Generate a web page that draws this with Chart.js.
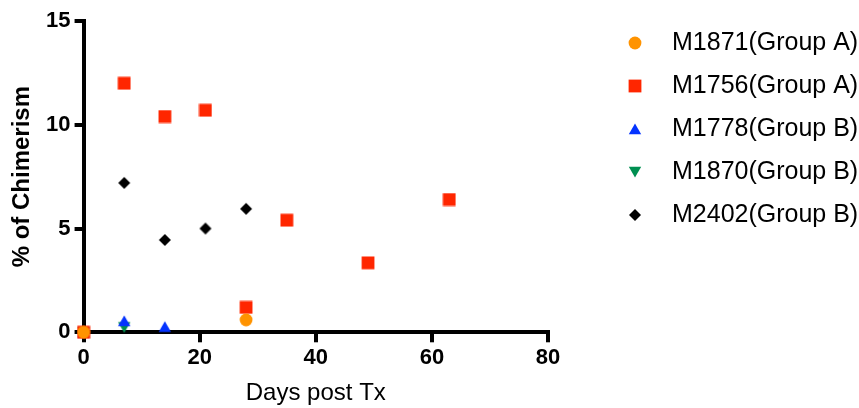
<!DOCTYPE html>
<html>
<head>
<meta charset="utf-8">
<script src="https://cdn.jsdelivr.net/npm/chart.js@4.4.1/dist/chart.umd.min.js"></script>
<style>
    html, body { margin: 0; padding: 0; background: #fff; }
    #wrap { width: 859px; height: 408px; }
</style>
</head>
<body>
<div id="wrap"><canvas id="myChart"></canvas></div>
<script>
const seriesNames = ['M1871(Group A)', 'M1756(Group A)', 'M1778(Group B)', 'M1870(Group B)', 'M2402(Group B)'];
const seriesColors = ['#FF9300', '#FF2600', '#0433FF', '#008F51', '#000000'];
const seriesShapes = ['circle', 'square', 'up', 'down', 'diamond'];

const m1871Days = [0, 28];
const m1871Vals = [0, 0.6];
const m1756Days = [0, 7, 14, 21, 28, 35, 49, 63];
const m1756Vals = [0, 12.0, 10.4, 10.7, 1.2, 5.4, 3.35, 6.4];
const m1778Days = [0, 7, 14];
const m1778Vals = [0, 0.55, 0.27];
const m1870Days = [0, 7];
const m1870Vals = [0, 0.24];
const m2402Days = [0, 7, 14, 21, 28];
const m2402Vals = [0, 7.2, 4.45, 5.0, 5.95];

const xTicks = [0, 20, 40, 60, 80];
const yTicks = [0, 5, 10, 15];

const allDays = [m1871Days, m1756Days, m1778Days, m1870Days, m2402Days];
const allVals = [m1871Vals, m1756Vals, m1778Vals, m1870Vals, m2402Vals];

const FONT = '"Liberation Sans", Arial, sans-serif';

// small marker images so chart and legend use the same glyph size
function makeMarker(shape, color) {
    const c = document.createElement('canvas');
    c.width = 14; c.height = 14;
    const g = c.getContext('2d');
    g.fillStyle = color;
    g.beginPath();
    if (shape === 'circle') {
        g.arc(7, 7, 6.4, 0, Math.PI * 2);
    } else if (shape === 'square') {
        g.rect(0.6, 0.6, 12.8, 12.8);
    } else if (shape === 'up') {
        g.moveTo(7, 1.5); g.lineTo(13.2, 12.3); g.lineTo(0.8, 12.3);
    } else if (shape === 'down') {
        g.moveTo(7, 12.5); g.lineTo(13.2, 1.7); g.lineTo(0.8, 1.7);
    } else {
        g.moveTo(7, 1); g.lineTo(13, 7); g.lineTo(7, 13); g.lineTo(1, 7);
    }
    g.closePath();
    g.fill();
    return c;
}

const datasets = seriesNames.map((name, i) => ({
    label: name,
    data: allDays[i].map((d, j) => ({ x: d, y: allVals[i][j] })),
    pointStyle: makeMarker(seriesShapes[i], seriesColors[i]),
    pointRadius: 6,
    pointHoverRadius: 6,
    backgroundColor: seriesColors[i],
    borderColor: seriesColors[i],
    showLine: false,
    clip: false
}));

const axisGrid = { display: true, drawOnChartArea: false, drawTicks: true, color: '#000', lineWidth: 4 };

new Chart(document.getElementById('myChart'), {
    type: 'scatter',
    data: { datasets: datasets },
    options: {
        responsive: true,
        maintainAspectRatio: false,
        animation: false,
        events: [],
        layout: { padding: { top: 12.5, left: 0, right: 0, bottom: 0 } },
        plugins: {
            tooltip: { enabled: false },
            legend: {
                position: 'right',
                align: 'start',
                maxWidth: 266.5,
                labels: {
                    usePointStyle: true,
                    pointStyleWidth: 49,
                    padding: 18,
                    color: '#000',
                    font: { family: FONT, size: 25 }
                }
            }
        },
        scales: {
            x: {
                type: 'linear',
                min: 0, max: 80,
                afterBuildTicks: s => { s.ticks = xTicks.map(v => ({ value: v })); },
                grid: Object.assign({}, axisGrid, { tickLength: 10 }),
                border: { color: '#000', width: 4 },
                ticks: { color: '#000', padding: 2, font: { family: FONT, size: 22, weight: 'bold' } },
                title: {
                    display: true, text: 'Days post Tx', color: '#000',
                    padding: { top: 6.5, bottom: 0 },
                    font: { family: FONT, size: 24 }
                }
            },
            y: {
                type: 'linear',
                min: 0, max: 15,
                afterBuildTicks: s => { s.ticks = yTicks.map(v => ({ value: v })); },
                grid: Object.assign({}, axisGrid, { tickLength: 9 }),
                border: { color: '#000', width: 4 },
                ticks: { color: '#000', padding: 4, font: { family: FONT, size: 22, weight: 'bold', lineHeight: 1.55 } },
                title: {
                    display: true, text: '% of Chimerism', color: '#000',
                    padding: { top: 7.6, bottom: 5.7 },
                    font: { family: FONT, size: 24, weight: 'bold' }
                }
            },
            gap: {
                type: 'linear',
                position: 'right',
                display: true,
                grid: { display: false },
                border: { display: false },
                ticks: { display: false },
                afterFit: s => { s.width = 44.5; }
            }
        }
    }
});
</script>
</body>
</html>
